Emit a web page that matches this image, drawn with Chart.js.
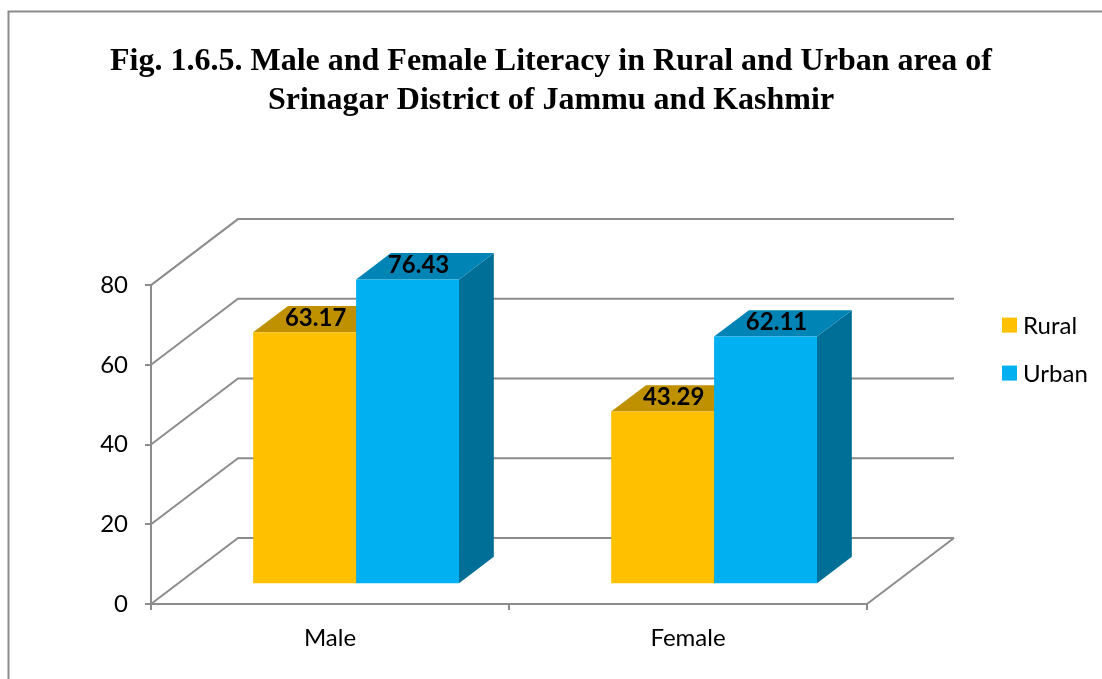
<!DOCTYPE html>
<html>
<head>
<meta charset="utf-8">
<script src="https://cdn.jsdelivr.net/npm/chart.js"></script>
<style>
  html, body { margin: 0; padding: 0; background: #fff; overflow: hidden; }
  canvas { display: block; }
</style>
</head>
<body>
<canvas id="graf" width="1102" height="679"></canvas>
<script>
// dados do gráfico
const categorias = ['Male', 'Female'];
const rural = [63.17, 43.29];
const urban = [76.43, 62.11];
const ticksY = [0, 20, 40, 60, 80];
const titulo = [
  'Fig. 1.6.5. Male and Female Literacy in Rural and Urban area of',
  'Srinagar District of Jammu and Kashmir'
];

// profundidade do "3D" (paredes) e planos das barras
const PROF = { dx: 87, dy: -66 };
const FRENTE = 0.3;
const FUNDO = 0.7;
const CINZA = '#8c8c8c';

function barrasComProps(chart, cb) {
  chart.data.datasets.forEach((ds, d) => {
    chart.getDatasetMeta(d).data.forEach((bar, i) => {
      cb(ds, bar.getProps(['x', 'y', 'base', 'width'], true), i);
    });
  });
}

const grafico3d = {
  id: 'grafico3d',

  // moldura do gráfico
  beforeDraw(chart) {
    const { ctx } = chart;
    ctx.save();
    ctx.strokeStyle = CINZA;
    ctx.lineWidth = 2;
    ctx.beginPath();
    ctx.moveTo(8.5, 679);
    ctx.lineTo(8.5, 11.5);
    ctx.lineTo(1102, 11.5);
    ctx.stroke();
    ctx.restore();
  },

  // paredes, chão e faces de topo/lateral das barras
  beforeDatasetsDraw(chart) {
    const { ctx, chartArea, scales: { y } } = chart;
    const { left, right } = chartArea;
    ctx.save();
    ctx.strokeStyle = CINZA;
    ctx.lineWidth = 2;
    y.ticks.forEach((t) => {
      const py = y.getPixelForValue(t.value);
      ctx.beginPath();
      ctx.moveTo(left, py);
      ctx.lineTo(left + PROF.dx, py + PROF.dy);
      ctx.lineTo(right + PROF.dx, py + PROF.dy);
      ctx.stroke();
    });
    const p0 = y.getPixelForValue(0);
    ctx.beginPath();
    ctx.moveTo(right, p0);
    ctx.lineTo(right + PROF.dx, p0 + PROF.dy);
    ctx.stroke();

    const bdx = PROF.dx * (FUNDO - FRENTE);
    const bdy = PROF.dy * (FUNDO - FRENTE);
    ctx.translate(PROF.dx * FRENTE, PROF.dy * FRENTE);
    barrasComProps(chart, (ds, { x, y, base, width }) => {
      const l = x - width / 2;
      const r = x + width / 2;

      ctx.fillStyle = ds.corLado;
      ctx.beginPath();
      ctx.moveTo(r, y);
      ctx.lineTo(r + bdx, y + bdy);
      ctx.lineTo(r + bdx, base + bdy);
      ctx.lineTo(r, base);
      ctx.closePath();
      ctx.fill();

      ctx.fillStyle = ds.corTopo;
      ctx.beginPath();
      ctx.moveTo(l, y);
      ctx.lineTo(r, y);
      ctx.lineTo(r + bdx, y + bdy);
      ctx.lineTo(l + bdx, y + bdy);
      ctx.closePath();
      ctx.fill();
    });
    ctx.restore();
  },

  // desloca as barras para o meio da profundidade
  beforeDatasetDraw(chart) {
    chart.ctx.save();
    chart.ctx.translate(PROF.dx * FRENTE, PROF.dy * FRENTE);
  },
  afterDatasetDraw(chart) {
    chart.ctx.restore();
  },

  // rótulos de valor e legenda
  afterDraw(chart) {
    const { ctx, chartArea } = chart;
    ctx.save();
    ctx.translate(PROF.dx * FRENTE, PROF.dy * FRENTE);
    ctx.fillStyle = '#000';
    ctx.font = 'bold 24px Lato';
    ctx.textAlign = 'center';
    ctx.textBaseline = 'middle';
    barrasComProps(chart, (ds, { x, y }, i) => {
      ctx.fillText(ds.data[i].toFixed(2), x + 11, y - 14);
    });
    ctx.restore();

    ctx.save();
    ctx.font = '24px Lato';
    ctx.textAlign = 'left';
    ctx.textBaseline = 'middle';
    chart.data.datasets.forEach((ds, i) => {
      const ly = chartArea.top + 40 + i * 48;
      const lx = chartArea.right + 135;
      ctx.fillStyle = ds.backgroundColor;
      ctx.fillRect(lx, ly - 7.5, 15, 15);
      ctx.fillStyle = '#000';
      ctx.fillText(ds.label, lx + 21, ly + 1);
    });
    ctx.restore();
  }
};

new Chart(document.getElementById('graf'), {
  type: 'bar',
  data: {
    labels: categorias,
    datasets: [
      {
        label: 'Rural',
        data: rural,
        backgroundColor: '#FFC000',
        corTopo: '#BF9000',
        corLado: '#A07800',
        borderWidth: 0,
        clip: false
      },
      {
        label: 'Urban',
        data: urban,
        backgroundColor: '#00B0F0',
        corTopo: '#0084B5',
        corLado: '#006F98',
        borderWidth: 0,
        clip: false
      }
    ]
  },
  plugins: [grafico3d],
  options: {
    responsive: false,
    animation: false,
    layout: { padding: 0 },
    datasets: {
      bar: { barPercentage: 1, categoryPercentage: 0.575 }
    },
    plugins: {
      legend: { display: false },
      tooltip: { enabled: false },
      title: {
        display: true,
        text: titulo,
        color: '#000',
        font: { family: 'Liberation Serif', size: 32, weight: 'bold', lineHeight: 1.22 },
        padding: { top: 42.5, bottom: 164.5 }
      }
    },
    scales: {
      x: {
        afterFit: (s) => { s.height = 75; },
        grid: {
          drawOnChartArea: false,
          tickLength: 6,
          color: CINZA,
          lineWidth: 2,
          offset: true
        },
        border: { display: true, color: CINZA, width: 2 },
        ticks: { color: '#000', font: { family: 'Lato', size: 24 }, padding: 14 }
      },
      y: {
        min: 0,
        max: 80,
        afterFit: (s) => { s.width = 151; },
        afterBuildTicks: (s) => { s.ticks = ticksY.map((v) => ({ value: v })); },
        grid: {
          drawOnChartArea: false,
          tickLength: 6,
          color: CINZA,
          lineWidth: 2
        },
        border: { display: true, color: CINZA, width: 2 },
        ticks: { color: '#000', font: { family: 'Lato', size: 24 }, padding: 17 }
      },
      // eixo vazio só para reservar espaço da legenda à direita
      espaco: {
        position: 'right',
        min: 0,
        max: 1,
        afterFit: (s) => { s.width = 235; },
        grid: { display: false },
        border: { display: false },
        ticks: { display: false }
      }
    }
  }
});
</script>
</body>
</html>
